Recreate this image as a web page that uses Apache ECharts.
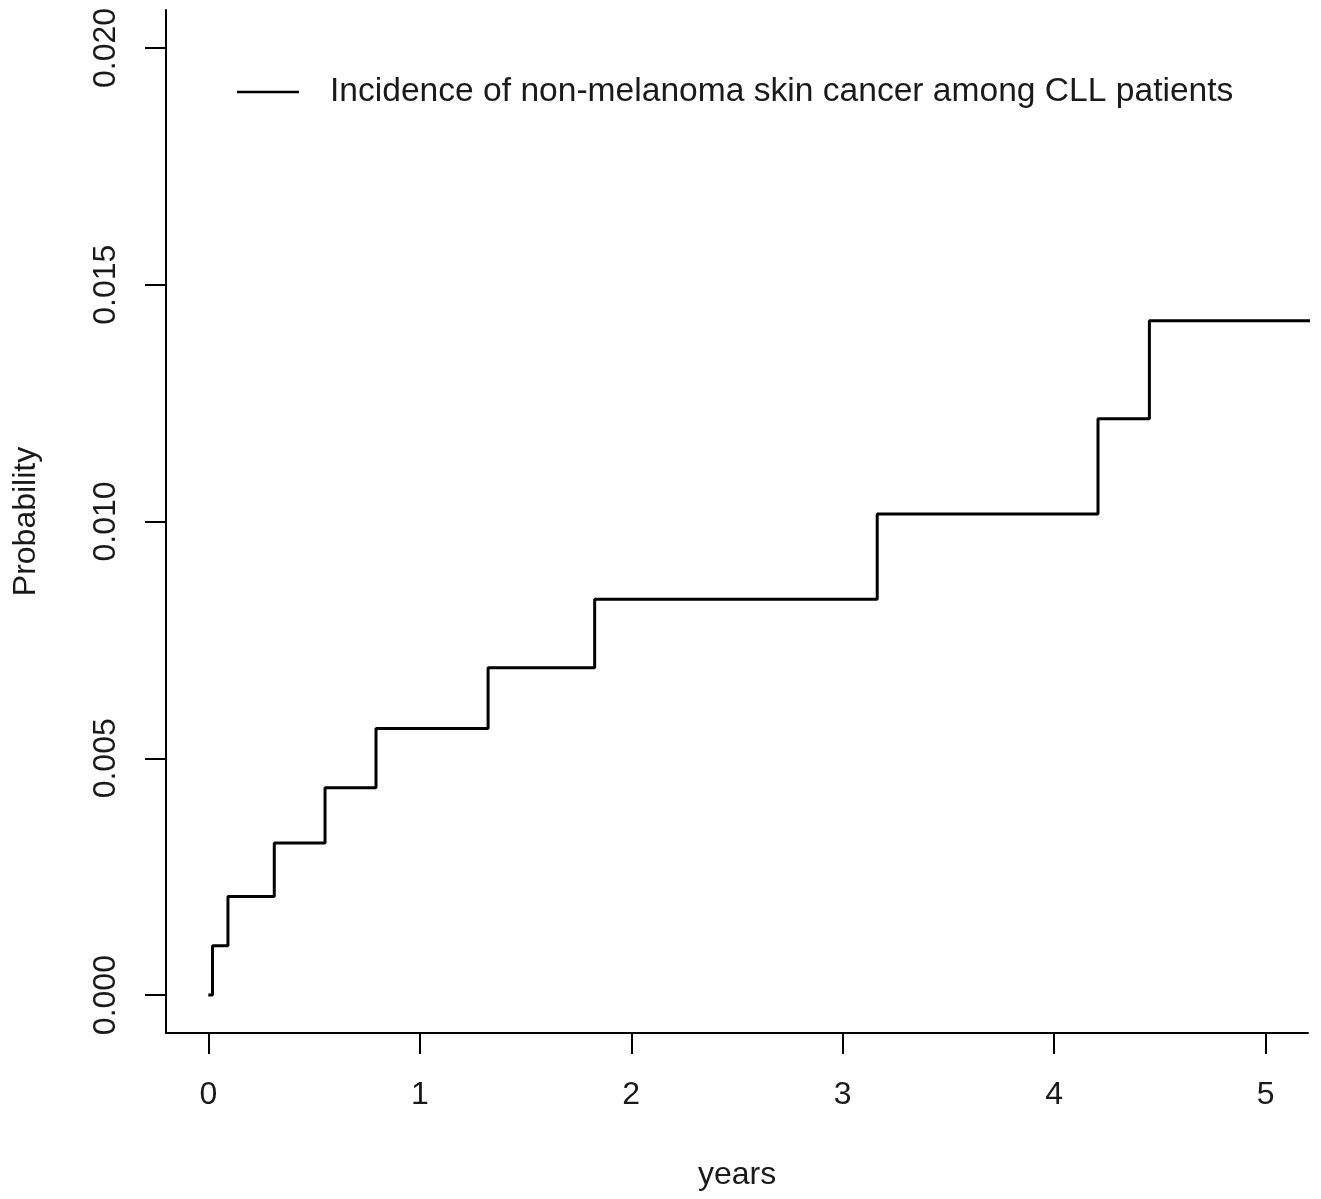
<!DOCTYPE html>
<html>
<head>
<meta charset="utf-8">
<script src="https://cdn.jsdelivr.net/npm/echarts@6/dist/echarts.min.js"></script>
<style>
html,body{margin:0;padding:0;background:#fff;}
#chart{width:1321px;height:1199px;}
</style>
</head>
<body>
<div id="chart"></div>
<script>
// Step times (years) and cumulative incidence values
const years = [0, 0.02, 0.093, 0.312, 0.552, 0.793, 1.323, 1.827, 3.163, 4.207, 4.45, 5.21];
const probability = [0, 0.00104, 0.00208, 0.00321, 0.00438, 0.00563, 0.00691, 0.00836, 0.01016, 0.01217, 0.01424, 0.01424];
const xTicks = [0, 1, 2, 3, 4, 5];
const yTicks = [0, 0.005, 0.010, 0.015, 0.020];
const seriesName = 'Incidence of non-melanoma skin cancer among CLL patients';

const FONT = '"Liberation Sans", Arial, sans-serif';
const chart = echarts.init(document.getElementById('chart'), null, {renderer: 'canvas'});
chart.setOption({
  animation: false,
  backgroundColor: '#fff',
  grid: {left: 166, top: 10, right: 13, bottom: 166, containLabel: false},
  legend: {
    left: 232, top: 70, padding: 5,
    itemWidth: 62, itemHeight: 2.5,
    icon: 'rect',
    itemStyle: {color: '#000'},
    textStyle: {fontFamily: FONT, fontSize: 33.6, color: '#1a1a1a', padding: [0, 0, 0, 26]},
    data: [seriesName]
  },
  xAxis: {
    type: 'value', min: -0.2, max: 5.2,
    name: 'years', nameLocation: 'middle', nameGap: 126,
    nameTextStyle: {fontFamily: FONT, fontSize: 32, color: '#1a1a1a'},
    axisLine: {show: true, onZero: false, lineStyle: {color: '#000', width: 2}},
    axisTick: {show: true, length: 21, customValues: xTicks, lineStyle: {color: '#000', width: 2}},
    axisLabel: {customValues: xTicks, margin: 46, fontFamily: FONT, fontSize: 32, color: '#1a1a1a',
      formatter: v => String(Math.round(v))},
    splitLine: {show: false}
  },
  yAxis: {
    type: 'value', min: -0.0008, max: 0.0208,
    name: 'Probability', nameLocation: 'middle', nameGap: 124,
    nameTextStyle: {fontFamily: FONT, fontSize: 32, color: '#1a1a1a'},
    axisLine: {show: true, onZero: false, lineStyle: {color: '#000', width: 2}},
    axisTick: {show: true, length: 21, customValues: yTicks, lineStyle: {color: '#000', width: 2}},
    axisLabel: {customValues: yTicks, rotate: 90, margin: 44, fontFamily: FONT, fontSize: 32, color: '#1a1a1a',
      formatter: v => v.toFixed(3)},
    splitLine: {show: false}
  },
  series: [{
    name: seriesName,
    type: 'line',
    step: 'end',
    symbol: 'none',
    lineStyle: {color: '#000', width: 3},
    itemStyle: {color: '#000'},
    data: years.map((x, i) => [x, probability[i]])
  }]
});
</script>
</body>
</html>
